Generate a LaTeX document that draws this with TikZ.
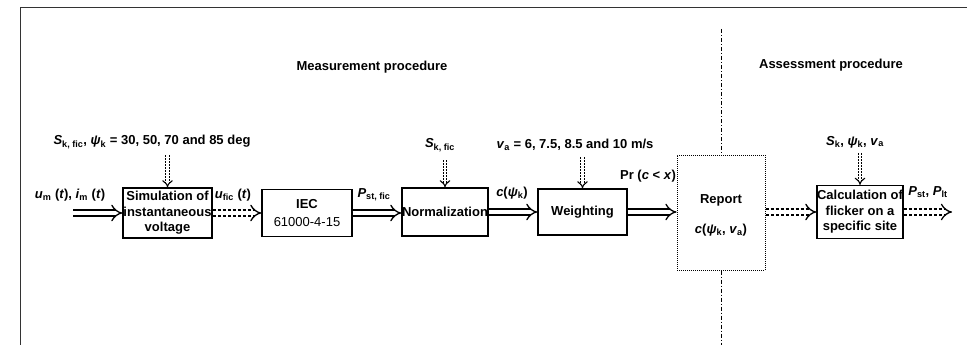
\documentclass[tikz,border=0pt]{standalone}
\usepackage{fontspec}
\setmainfont{Liberation Sans}
\usetikzlibrary{arrows.meta}
\newcommand{\sbs}[1]{\textsubscript{#1}}
\begin{document}
\begin{tikzpicture}[x=1pt,y=-1pt,
  font=\fontsize{13}{15.5}\selectfont\bfseries,
  blk/.style={draw,line width=1.2pt,inner sep=0pt,align=center},
  rep/.style={draw,line width=1pt,densely dotted,inner sep=0pt,align=center},
  lab/.style={inner sep=0pt,anchor=center},
  harr/.style={double,double distance=4.5pt,line width=1.3pt,-{Implies[scale=1.5]}},
  varr/.style={double,double distance=2.5pt,line width=1.1pt,-{Implies[scale=1.2]},dash pattern=on 2pt off 1pt},
  frame/.style={line width=0.9pt,black!80},
  sep/.style={line width=0.9pt,dash pattern=on 4pt off 2pt on 1pt off 2pt}]
\useasboundingbox (0,0) rectangle (967,345);

% frame
\coordinate (ftl) at (20,7);
\coordinate (ftr) at (967,7);
\coordinate (fbl) at (20,345);
\draw[frame] (fbl) -- (ftl) -- (ftr);

% headers
\node[lab] (hmeas) at (372,67) {Measurement procedure};
\node[lab] (hass) at (831,65) {Assessment procedure};

% blocks
\node[blk,minimum width=89pt,minimum height=50pt] (sim) at (167.5,213) {Simulation of\\instantaneous\\voltage};
\node[blk,minimum width=90pt,minimum height=47pt] (iec) at (307,213) {IEC\\[2pt]\mdseries 61000-4-15};
\node[blk,minimum width=86pt,minimum height=48pt] (norm) at (445,212) {Normalization};
\node[blk,minimum width=89pt,minimum height=46pt] (wgt) at (582.5,212) {Weighting};
\node[rep,minimum width=88pt,minimum height=115pt] (rep) at (721,212.5) {};
\node[lab] (reptxt) at (721,200) {Report};
\node[lab] (repc) at (721,230) {\textit{c}(\textit{ψ}\sbs{k}, \textit{v}\sbs{a})};
\node[blk,minimum width=86pt,minimum height=53pt] (calc) at (860,212) {Calculation of\\flicker on a\\specific site};

% separator
\coordinate (septop) at (721,29);
\coordinate (sepbot) at (721,345);
\draw[sep] (septop) -- (rep.north);
\draw[sep] (rep.south) -- (sepbot);

% horizontal flow
\coordinate (in) at (73,213);
\coordinate (out) at (952,212);
\draw[harr] (in) -- (sim.west);
\draw[harr,densely dashed] (sim.east) -- (iec.west);
\draw[harr] (iec.east) -- (norm.west |- iec.east);
\draw[harr] (norm.east) -- (wgt.west);
\draw[harr] (wgt.east) -- (rep.west |- wgt.east);
\draw[harr,densely dashed] (rep.east |- calc.west) -- (calc.west);
\draw[harr,densely dashed] (calc.east) -- (out);

% flow labels
\node[lab] (lin) at (70,195) {\textit{u}\sbs{m} (\textit{t}), \textit{i}\sbs{m} (\textit{t})};
\node[lab] (lufic) at (233,195) {\textit{u}\sbs{fic} (\textit{t})};
\node[lab] (lpst) at (374,195) {\textit{P}\sbs{st, fic}};
\node[lab] (lcpsi) at (512,193) {\textit{c}(\textit{ψ}\sbs{k})};
\node[lab] (lpr) at (648,176) {Pr (\textit{c} \textless{} \textit{x})};
\node[lab] (lout) at (928,192) {\textit{P}\sbs{st}, \textit{P}\sbs{lt}};

% top inputs
\node[lab] (t1) at (152,142) {\textit{S}\sbs{k, fic}, \textit{ψ}\sbs{k} = 30, 50, 70 and 85 deg};
\node[lab] (t2) at (440,145) {\textit{S}\sbs{k, fic}};
\node[lab] (t3) at (575,145) {\textit{v}\sbs{a} = 6, 7.5, 8.5 and 10 m/s};
\node[lab] (t4) at (855,142) {\textit{S}\sbs{k}, \textit{ψ}\sbs{k}, \textit{v}\sbs{a}};
\coordinate (a1) at (167.5,155);
\coordinate (a2) at (445,160);
\coordinate (a3) at (582.5,157);
\coordinate (a4) at (860,153);
\draw[varr] (a1) -- (sim.north);
\draw[varr] (a2) -- (norm.north);
\draw[varr] (a3) -- (wgt.north);
\draw[varr] (a4) -- (calc.north);
\end{tikzpicture}
\end{document}
